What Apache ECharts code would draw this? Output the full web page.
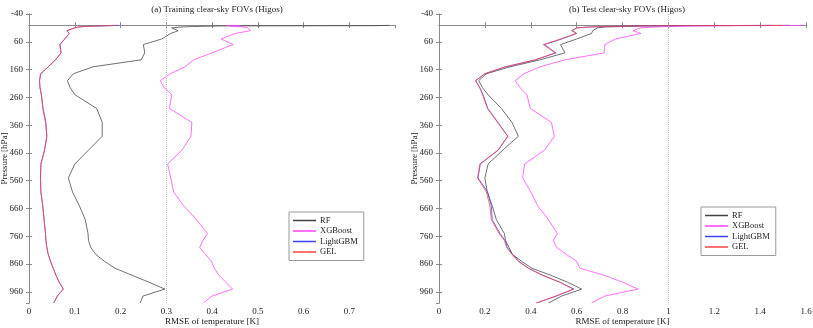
<!DOCTYPE html>
<html>
<head>
<meta charset="utf-8">
<script src="https://cdn.jsdelivr.net/npm/echarts@6/dist/echarts.min.js"></script>
<style>
  html, body { margin: 0; padding: 0; background: #fff; }
  #main { width: 813px; height: 328px; }
</style>
</head>
<body>
<div id="main"></div>
<script>
// pressure levels (hPa)
var levels = [1,2,3,5,7,10,20,30,50,70,100,125,150,175,200,225,250,300,350,400,450,500,550,600,650,700,750,775,800,825,850,875,900,925,950,975,1000];

// (a) training RMSE
var trainRF  = [0.787,0.757,0.42,0.36,0.33,0.312,0.326,0.31,0.29,0.25,0.253,0.245,0.14,0.097,0.084,0.09,0.1,0.148,0.16,0.16,0.13,0.1,0.086,0.095,0.11,0.123,0.129,0.13,0.135,0.146,0.165,0.188,0.225,0.262,0.297,0.249,0.243];
var trainXGB = [0.43,0.46,0.44,0.45,0.47,0.478,0.484,0.45,0.42,0.446,0.4,0.36,0.341,0.309,0.287,0.295,0.312,0.307,0.356,0.354,0.334,0.303,0.31,0.316,0.338,0.366,0.39,0.38,0.373,0.386,0.399,0.405,0.415,0.43,0.445,0.4,0.381];
var trainLGB = [0.196,0.178,0.156,0.121,0.108,0.1,0.083,0.088,0.078,0.068,0.07,0.058,0.042,0.026,0.023,0.024,0.027,0.031,0.037,0.039,0.034,0.026,0.025,0.026,0.03,0.033,0.036,0.037,0.039,0.042,0.047,0.053,0.059,0.066,0.075,0.062,0.054];
var trainGEL = [0.19,0.175,0.155,0.12,0.108,0.1,0.083,0.088,0.078,0.067,0.07,0.058,0.042,0.025,0.023,0.024,0.027,0.03,0.036,0.039,0.034,0.026,0.025,0.026,0.03,0.033,0.036,0.037,0.039,0.042,0.047,0.053,0.059,0.066,0.075,0.062,0.054];

// (b) test RMSE
var testRF  = [1.53,1.1,0.9,0.8,0.72,0.69,0.67,0.665,0.6,0.53,0.549,0.44,0.31,0.206,0.173,0.19,0.213,0.272,0.318,0.346,0.278,0.214,0.2,0.21,0.232,0.25,0.285,0.29,0.305,0.32,0.36,0.405,0.487,0.56,0.622,0.535,0.477];
var testXGB = [1.59,1.3,1.1,1.0,0.93,0.88,0.846,0.88,0.77,0.723,0.72,0.549,0.44,0.37,0.332,0.354,0.383,0.398,0.49,0.503,0.46,0.373,0.365,0.4,0.43,0.477,0.516,0.498,0.513,0.555,0.6,0.614,0.72,0.8,0.868,0.723,0.665];
var testLGB = [1.45,1.04,0.85,0.72,0.65,0.6,0.58,0.6,0.535,0.46,0.51,0.42,0.29,0.2,0.16,0.178,0.192,0.213,0.257,0.3,0.258,0.18,0.17,0.212,0.228,0.232,0.266,0.288,0.298,0.32,0.348,0.39,0.452,0.527,0.588,0.512,0.425];
var testGEL = [1.5,1.05,0.85,0.72,0.65,0.6,0.578,0.6,0.53,0.455,0.506,0.42,0.29,0.199,0.159,0.177,0.19,0.211,0.255,0.3,0.257,0.178,0.168,0.206,0.222,0.228,0.262,0.285,0.295,0.318,0.345,0.39,0.45,0.525,0.586,0.51,0.423];

var names = ['RF','XGBoost','LightGBM','GEL'];
var colors = ['#404040','#ff40ff','#4040ff','#ff4040'];
var FONT = "'Liberation Serif', 'Times New Roman', serif";

function pairs(vals) {
	return levels.map(function(p, i) { return [vals[i], p]; });
}

function mkSeries(name, vals, idx, color, refX) {
	var s = {
		name: name,
		type: 'line',
		xAxisIndex: idx,
		yAxisIndex: idx,
		data: pairs(vals),
		symbol: 'none',
		color: color,
		lineStyle: { width: 0.75, color: color },
		silent: true
	};
	if (refX !== undefined) {
		s.markLine = {
			silent: true,
			symbol: 'none',
			label: { show: false },
			lineStyle: { color: '#bbbbbb', type: [1, 1], width: 1 },
			data: [{ xAxis: refX }]
		};
	}
	return s;
}

function xAx(grid, max, interval, top) {
	return {
		type: 'value', gridIndex: grid, position: top ? 'top' : 'bottom',
		min: 0, max: max, interval: interval,
		name: top ? '' : 'RMSE of temperature [K]',
		nameLocation: 'middle', nameGap: 14, nameMoveOverlap: false,
		nameTextStyle: { fontFamily: FONT, fontSize: 9, color: '#222' },
		axisLine: { show: true, lineStyle: { color: '#8a8a8a' } },
		axisTick: { show: true, inside: true, length: 3, lineStyle: { color: '#8a8a8a' } },
		axisLabel: { show: !top, fontFamily: FONT, fontSize: 9, color: '#222', margin: 4, showMaxLabel: max < 1 ? false : true },
		splitLine: { show: false }
	};
}

function yAx(grid, right) {
	return {
		type: 'value', gridIndex: grid, position: right ? 'right' : 'left',
		inverse: true, min: -40, max: 1000, interval: 100,
		name: right ? '' : 'Pressure [hPa]',
		nameLocation: 'middle', nameGap: 20, nameMoveOverlap: false,
		nameTextStyle: { fontFamily: FONT, fontSize: 9, color: '#222' },
		axisLine: { show: true, lineStyle: { color: '#8a8a8a' } },
		axisTick: { show: true, inside: true, length: 3, lineStyle: { color: '#8a8a8a' } },
		axisLabel: { show: !right, fontFamily: FONT, fontSize: 9, color: '#222', margin: 6, showMaxLabel: false },
		splitLine: { show: false }
	};
}

function legendAt(left, top) {
	return {
		data: names.map(function(n, i) { return { name: n, itemStyle: { color: colors[i] } }; }),
		orient: 'vertical',
		left: left, top: top,
		icon: 'rect',
		itemWidth: 23, itemHeight: 1.5,
		itemGap: 1.5,
		padding: [4, 6, 4, 4],
		borderColor: '#999', borderWidth: 1,
		backgroundColor: '#fff',
		textStyle: { fontFamily: FONT, fontSize: 8.5, color: '#222', padding: [0, 0, 0, -1] },
		selectedMode: false
	};
}

var chart = echarts.init(document.getElementById('main'), null, { renderer: 'canvas' });

chart.setOption({
	animation: false,
	backgroundColor: '#fff',
	title: [
		{ text: '(a) Training clear-sky FOVs (Higos)', left: 212, top: 0, textAlign: 'center',
		  textStyle: { fontFamily: FONT, fontSize: 9, fontWeight: 'normal', color: '#222' } },
		{ text: '(b) Test clear-sky FOVs (Higos)', left: 622, top: 0, textAlign: 'center',
		  textStyle: { fontFamily: FONT, fontSize: 9, fontWeight: 'normal', color: '#222' } }
	],
	legend: [legendAt(289, 212), legendAt(701, 207)],
	grid: [
		{ left: 29, top: 14, width: 366, height: 289, outerBoundsMode: 'none', containLabel: false },
		{ left: 439, top: 14, width: 367, height: 289, outerBoundsMode: 'none', containLabel: false }
	],
	xAxis: [xAx(0, 0.8, 0.1, false), xAx(1, 1.6, 0.2, false), xAx(0, 0.8, 0.1, true), xAx(1, 1.6, 0.2, true)],
	yAxis: [yAx(0, false), yAx(1, false), yAx(0, true), yAx(1, true)],
	series: [
		mkSeries('RF', trainRF, 0, colors[0], 0.3),
		mkSeries('XGBoost', trainXGB, 0, colors[1]),
		mkSeries('LightGBM', trainLGB, 0, colors[2]),
		mkSeries('GEL', trainGEL, 0, colors[3]),
		mkSeries('RF', testRF, 1, colors[0], 1),
		mkSeries('XGBoost', testXGB, 1, colors[1]),
		mkSeries('LightGBM', testLGB, 1, colors[2]),
		mkSeries('GEL', testGEL, 1, colors[3])
	]
});
</script>
</body>
</html>
